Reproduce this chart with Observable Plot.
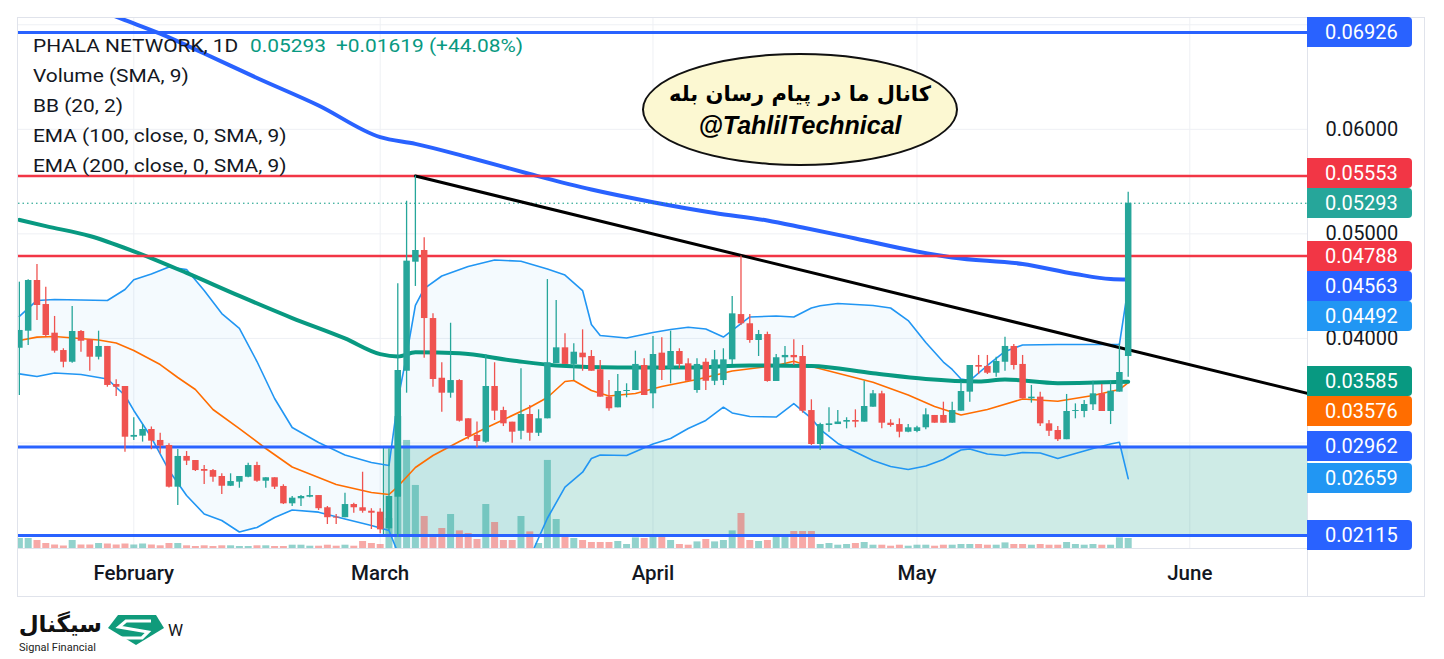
<!DOCTYPE html>
<html lang="en">
<head>
<meta charset="utf-8">
<title>PHALA NETWORK, 1D</title>
<script src="https://cdn.jsdelivr.net/npm/d3@7"></script>
<script src="https://cdn.jsdelivr.net/npm/@observablehq/plot@0.6"></script>
<style>
  html, body { margin:0; padding:0; background:#fff; overflow:hidden; }
  #wrap { position:relative; width:1444px; height:659px; font-family: Roboto, "Noto Sans", sans-serif; color:#131722; overflow:hidden; }
  #wrap svg { position:absolute; left:0; top:0; }
  .frame { position:absolute; left:17px; top:17px; width:1408px; height:580px; border:1px solid #e0e3eb; box-sizing:border-box; }
  .vsep { position:absolute; left:1307px; top:17px; width:1px; height:580px; background:#e0e3eb; }
  .hsep { position:absolute; left:17px; top:548px; width:1290px; height:1px; background:#e0e3eb; }
  .lg { position:absolute; font-size:18px; line-height:30px; white-space:pre; transform:scaleX(1.16); transform-origin:0 50%; }
  .up { color:#089981; }
  .badge { position:absolute; left:1307px; width:105px; height:30px; line-height:30px; padding-left:18px; box-sizing:border-box; color:#fff; font-size:20px; border-radius:0 4px 4px 0; }
  .bubble { position:absolute; left:642px; top:53px; width:316px; height:113px; box-sizing:border-box; border:2px solid #111; border-radius:50%; background:#fcf8d2; display:flex; flex-direction:column; justify-content:center; align-items:center; line-height:31px; color:#000; }
  .fa { font-family:"DejaVu Sans", sans-serif; font-weight:bold; font-size:21px; direction:rtl; }
  .en { font-family:"Liberation Sans", Arial, sans-serif; font-weight:bold; font-style:italic; font-size:25px; }
  .logo-fa { position:absolute; left:14px; top:611px; width:88px; text-align:right; font-family:"DejaVu Sans", sans-serif; font-weight:bold; font-size:23px; color:#111; direction:rtl; }
  .logo-en { position:absolute; left:19px; top:641px; font-size:11px; color:#222; }
  .logo-w { position:absolute; left:168px; top:620px; font-size:17px; color:#131722; }
</style>
</head>
<body>
<div id="wrap">
  <div class="frame"></div>
</div>
<script>
// ---------------- data ----------------
const startDate = "2025-01-19";  // first daily candle
const open = [
.03906,.04069,.04554,.04324,.04050,.03884,.03772,.04066,.03987,.03820,.03923,.03559,.03540,
.03055,.03065,.03129,.03024,.02976,.02577,.02871,.02832,.02746,.02736,.02679,.02586,.02625,.02672,.02784,.02634,.02667,.02584,.02418,.02466,.02481,.02497,.02380,.02290,.02285,.02411,.02380,.02347,
.02338,.02179,.02481,.03686,.04729,.04841,.04190,.03619,.03476,.03597,.03231,.03072,.03007,.03540,.03310,.03199,.03112,.03272,.03093,.03231,.03760,.03910,.03751,.03859,.03827,.03700,.03438,.03336,.03492,.03502,.03741,
.03470,.03859,.03709,.03875,.03757,.03502,.03772,.03590,.03597,.03795,.04228,.04140,.03980,.04037,.03588,.03815,.03837,.03827,.03310,.02985,.03167,.03176,.03199,.03215,.03199,.03342,.03470,.03189,.03176,.03103,
.03110,.03145,.03263,.03263,.03189,.03304,.03486,.03741,.03732,.03667,.03772,.03923,.03751,.03422,.03438,.03183,.03119,.03031,.03301,.03301,.03365,.03470,.03301,.03486,.03827];
const high = [
.04538,.04561,.04707,.04490,.04210,.03901,.04305,.04076,.03987,.04069,.03923,.03604,.03540,
.03241,.03176,.03153,.03093,.02992,.02937,.02918,.02832,.02784,.02746,.02705,.02705,.02679,.02806,.02816,.02667,.02667,.02600,.02488,.02497,.02584,.02497,.02392,.02316,.02520,.02424,.02720,.02371,
.02371,.02944,.04522,.05312,.05553,.04962,.04235,.03767,.04145,.03605,.03231,.03200,.03846,.03767,.03342,.03199,.03710,.03358,.03317,.04563,.04363,.04044,.03948,.04082,.03884,.03789,.03597,.03655,.03566,.03878,.03805,
.04018,.04006,.04069,.03901,.03805,.03805,.03805,.03884,.03901,.04401,.04788,.04228,.04076,.04060,.03846,.03923,.03987,.03932,.03413,.03189,.03336,.03310,.03241,.03317,.03590,.03502,.03495,.03222,.03231,.03176,
.03160,.03327,.03263,.03390,.03390,.03581,.03741,.03837,.03837,.03820,.04012,.03942,.03837,.03550,.03486,.03215,.03157,.03464,.03374,.03406,.03590,.03559,.03590,.03948,.05398];
const low = [
.03454,.03932,.04171,.04012,.03859,.03719,.03763,.03868,.03686,.03794,.03533,.03444,.02912,
.03024,.03008,.02935,.02896,.02570,.02402,.02784,.02727,.02603,.02625,.02507,.02583,.02567,.02667,.02625,.02567,.02555,.02411,.02392,.02392,.02475,.02354,.02220,.02220,.02285,.02328,.02328,.02172,
.02131,.02163,.02099,.03476,.04497,.03811,.03533,.03294,.03428,.03200,.03031,.02954,.02998,.03215,.03157,.02998,.03031,.03017,.03062,.03231,.03760,.03751,.03597,.03686,.03686,.03438,.03304,.03336,.03432,.03502,.03454,
.03327,.03597,.03566,.03709,.03590,.03476,.03502,.03549,.03549,.03751,.04124,.03954,.03827,.03581,.03588,.03751,.03741,.03285,.02976,.02928,.03103,.03176,.03135,.03145,.03199,.03342,.03135,.03151,.03049,.03097,
.03097,.03126,.03189,.03189,.03189,.03304,.03390,.03655,.03655,.03629,.03686,.03699,.03422,.03381,.03157,.03062,.03014,.03031,.03231,.03240,.03310,.03301,.03176,.03486,.03629];
const close = [
.04076,.04554,.04315,.04028,.03878,.03772,.04066,.03973,.03820,.03923,.03550,.03533,.03055,
.03072,.03129,.03017,.02970,.02577,.02871,.02826,.02736,.02729,.02672,.02586,.02631,.02679,.02784,.02634,.02667,.02577,.02418,.02472,.02488,.02497,.02371,.02285,.02281,.02411,.02380,.02347,.02328,
.02169,.02488,.03693,.04739,.04841,.04190,.03607,.03476,.03597,.03208,.03062,.03014,.03540,.03304,.03183,.03103,.03272,.03093,.03231,.03767,.03910,.03751,.03868,.03815,.03686,.03438,.03327,.03492,.03502,.03751,.03454,
.03846,.03693,.03875,.03751,.03590,.03751,.03590,.03795,.03795,.04235,.04140,.03980,.04037,.03588,.03815,.03837,.03815,.03304,.02985,.03176,.03183,.03200,.03215,.03199,.03349,.03470,.03189,.03167,.03103,.03145,
.03145,.03269,.03189,.03189,.03310,.03492,.03741,.03725,.03667,.03779,.03923,.03741,.03422,.03438,.03183,.03112,.03031,.03301,.03310,.03368,.03470,.03301,.03495,.03674,.05293];
// volume (millions, read relative to the volume pane)
const volume = [
10,10,8,5,3.5,2.5,8,3.5,3.5,5,4.5,3.5,4.5,
3.5,4.5,3.5,2.7,5,5,2.7,2,2.7,2,2.7,2.7,2,2,2.7,2.7,2,2,3.3,3.3,2.3,2.3,3.3,2.3,3.3,2.3,7,5,
4,30,132,108,63,32,13,20,34,17.6,15,9,44,26,8,8,32,16.6,5,88,29,12,10,8,6,6,6,7,4,10.6,10,
11.6,11.6,8,4,3.3,6.6,9,6.6,8,17.6,35,8,7,8,11.6,11.6,17,17,17,4,5,3.3,4,5,6,3.3,3.3,2.3,3.3,2.3,
3.3,3.3,2.3,3.3,3.3,4,4,4,3.3,3.3,5.6,4,4,3.3,4,3.3,3.3,6,4,3.3,4,3.3,3.3,10.6,10];

// Bollinger Bands (20, 2)
const bbDates = ["2025-01-19","2025-01-21","2025-01-23","2025-01-26","2025-01-29","2025-01-31",
"2025-02-01","2025-02-03","2025-02-05","2025-02-07","2025-02-09","2025-02-11","2025-02-13","2025-02-15","2025-02-17","2025-02-19","2025-02-22","2025-02-25","2025-02-28",
"2025-03-02","2025-03-03","2025-03-04","2025-03-05","2025-03-06","2025-03-08","2025-03-11","2025-03-14","2025-03-17","2025-03-20","2025-03-22","2025-03-24","2025-03-25","2025-03-26","2025-03-29",
"2025-04-01","2025-04-03","2025-04-05","2025-04-07","2025-04-09","2025-04-10","2025-04-12","2025-04-15","2025-04-17","2025-04-19","2025-04-20","2025-04-22","2025-04-24","2025-04-26","2025-04-28","2025-04-30",
"2025-05-02","2025-05-04","2025-05-05","2025-05-06","2025-05-07","2025-05-09","2025-05-11","2025-05-13","2025-05-15","2025-05-17","2025-05-19","2025-05-21","2025-05-23","2025-05-24","2025-05-25"];
const bbUpper = [.04210,.04363,.04372,.04367,.04363,.04468,
.04561,.04616,.04683,.04659,.04458,.04238,.04095,.03779,.03425,.03148,.03004,.02885,.02813,
.02784,.03406,.03837,.04315,.04477,.04597,.04688,.04750,.04738,.04664,.04606,.04458,.04133,.04028,.04004,
.04057,.04085,.04107,.04090,.04013,.04076,.04205,.04214,.04205,.04291,.04313,.04334,.04324,.04315,.04291,.04171,
.03961,.03774,.03703,.03612,.03597,.03741,.03875,.03937,.03939,.03942,.03942,.03942,.03942,.03942,.04492];
const bbLower = [.03661,.03636,.03669,.03655,.03612,.03454,
.03311,.03052,.02737,.02497,.02321,.02258,.02148,.02192,.02287,.02359,.02338,.02273,.02211,
.02163,.01952,.01730,.01589,.01493,.01397,.01350,.01380,.01713,.02280,.02577,.02720,.02851,.02885,.02880,
.02990,.03043,.03138,.03215,.03342,.03287,.03253,.03248,.03377,.03236,.03131,.02995,.02914,.02832,.02775,.02746,
.02780,.02842,.02890,.02933,.02942,.02894,.02880,.02909,.02904,.02851,.02899,.02947,.02990,.03007,.02659];
const basisDates = ["2025-01-19","2025-01-21","2025-01-23","2025-01-28","2025-01-30","2025-02-01","2025-02-04","2025-02-06","2025-02-08","2025-02-10","2025-02-13","2025-02-16","2025-02-19","2025-02-24","2025-02-28",
"2025-03-02","2025-03-03","2025-03-05","2025-03-07","2025-03-10","2025-03-13","2025-03-18","2025-03-20","2025-03-22","2025-03-23","2025-03-25","2025-03-27","2025-03-30",
"2025-04-02","2025-04-06","2025-04-10","2025-04-15","2025-04-17","2025-04-19","2025-04-22","2025-04-26","2025-04-30",
"2025-05-03","2025-05-06","2025-05-09","2025-05-13","2025-05-17","2025-05-21","2025-05-24","2025-05-25"];
const bbBasis = [.03980,.04012,.04018,.03985,.03956,.03884,.03750,.03626,.03511,.03320,.03138,.02947,.02770,.02603,.02526,
.02507,.02583,.02765,.02880,.03014,.03143,.03342,.03435,.03588,.03597,.03502,.03449,.03473,
.03540,.03607,.03688,.03741,.03782,.03731,.03667,.03581,.03459,
.03349,.03267,.03320,.03420,.03399,.03454,.03511,.03576];

// EMA 100 and EMA 200
const ema100Dates = ["2025-01-19","2025-01-22","2025-01-27","2025-02-01","2025-02-07","2025-02-13","2025-02-19","2025-02-25","2025-03-01","2025-03-03","2025-03-05","2025-03-10","2025-03-16","2025-03-21","2025-03-28","2025-04-05","2025-04-12","2025-04-19","2025-04-26","2025-05-02","2025-05-08","2025-05-11","2025-05-17","2025-05-25"];
const ema100 = [.05134,.05074,.04980,.04833,.04626,.04406,.04195,.04000,.03850,.03827,.03868,.03858,.03789,.03741,.03722,.03722,.03741,.03736,.03667,.03612,.03588,.03607,.03572,.03585];
const ema200Dates = ["2025-01-19","2025-01-25","2025-01-31","2025-02-04","2025-02-09","2025-02-15","2025-02-22","2025-03-01","2025-03-05","2025-03-11","2025-03-18","2025-03-25","2025-04-01","2025-04-08","2025-04-14","2025-04-18","2025-04-24","2025-05-01","2025-05-05","2025-05-13","2025-05-19","2025-05-23","2025-05-25"];
const ema200 = [.07430,.07240,.07045,.06915,.06725,.06491,.06228,.05925,.05861,.05733,.05573,.05424,.05303,.05200,.05128,.05061,.04956,.04831,.04774,.04712,.04616,.04568,.04563];

// drawings
const blueLevels = [0.06926, 0.02962, 0.02115];
const redLevels = [0.05553, 0.04788];
const zoneStart = "2025-03-01T10:00Z", zoneEnd = "2025-07-01";
const zoneLow = 0.02115, zoneHigh = 0.02962;
const trendDates = ["2025-03-05", "2025-06-15"];
const trendPrices = [0.05553, 0.03461];

// legend texts
const symbolTitle = "PHALA NETWORK, 1D";
const lastPriceText = "0.05293";
const changeText = "+0.01619 (+44.08%)";
const indicatorNames = ["Volume (SMA, 9)", "BB (20, 2)", "EMA (100, close, 0, SMA, 9)", "EMA (200, close, 0, SMA, 9)"];

// axes
const monthTicks = ["2025-02-01","2025-03-01","2025-04-01","2025-05-01","2025-06-01"];
const priceTicks = [0.04, 0.05, 0.06];
const gridPrices = [0.03, 0.04, 0.05, 0.06, 0.07];
const xDomain = ["2025-01-18T21:36Z", "2025-06-14T09:00Z"];
const yDomain = [0.019905, 0.070695];

// ---------------- build ----------------
const UP = "#26a69a", DOWN = "#ef5350";
const days = d3.utcDay.range(new Date(startDate), d3.utcDay.offset(new Date(startDate), open.length));
const candles = days.map((d, i) => ({date: d, open: open[i], high: high[i], low: low[i], close: close[i], vol: volume[i], up: close[i] >= open[i]}));
const bb = bbDates.map((d, i) => ({date: new Date(d), upper: bbUpper[i], lower: bbLower[i]}));
const basis = basisDates.map((d, i) => ({date: new Date(d), v: bbBasis[i]}));
const e100 = ema100Dates.map((d, i) => ({date: new Date(d), v: ema100[i]}));
const e200 = ema200Dates.map((d, i) => ({date: new Date(d), v: ema200[i]}));
const trend = trendDates.map((d, i) => ({date: new Date(d), v: trendPrices[i]}));
const volBase = yDomain[0];
const volUnit = 0.0000957; // price units per volume unit inside the pane
const minBody = 0.00005;

const plot = Plot.plot({
  width: 1444, height: 659,
  marginLeft: 18, marginRight: 137, marginTop: 17, marginBottom: 111,
  style: {fontFamily: "Roboto, sans-serif", color: "#131722", background: "transparent", overflow: "visible"},
  x: {type: "utc", domain: xDomain.map(d => new Date(d))},
  y: {domain: yDomain},
  color: {type: "identity"},
  marks: [
    Plot.gridX(monthTicks.map(d => new Date(d)), {stroke: "#eef0f4", strokeOpacity: 1}),
    Plot.gridY(gridPrices, {stroke: "#eef0f4", strokeOpacity: 1}),
    Plot.rect([{x1: new Date(zoneStart), x2: new Date(zoneEnd), y1: zoneLow, y2: zoneHigh}],
      {x1: "x1", x2: "x2", y1: "y1", y2: "y2", fill: "#089981", fillOpacity: 0.2, stroke: "#089981", strokeWidth: 1, clip: true}),
    Plot.areaY(bb, {x: "date", y1: "lower", y2: "upper", fill: "#2196f3", fillOpacity: 0.05, clip: true}),
    Plot.ruleX(candles, {x: "date", y1: () => volBase, y2: d => volBase + d.vol * volUnit,
      stroke: d => d.up ? UP : DOWN, strokeOpacity: 0.5, strokeWidth: 7, clip: true}),
    Plot.line(bb, {x: "date", y: "upper", stroke: "#2196f3", strokeWidth: 1.6, clip: true}),
    Plot.line(bb, {x: "date", y: "lower", stroke: "#2196f3", strokeWidth: 1.6, clip: true}),
    Plot.line(basis, {x: "date", y: "v", stroke: "#ff6d00", strokeWidth: 1.6, clip: true}),
    Plot.line(e100, {x: "date", y: "v", stroke: "#089981", strokeWidth: 4, curve: "monotone-x", clip: true}),
    Plot.line(e200, {x: "date", y: "v", stroke: "#2962ff", strokeWidth: 4, curve: "monotone-x", clip: true}),
    Plot.ruleY(blueLevels, {stroke: "#2962ff", strokeWidth: 3}),
    Plot.ruleY(redLevels, {stroke: "#f23645", strokeWidth: 2.5}),
    Plot.ruleY([close[close.length - 1]], {stroke: "#089981", strokeWidth: 1, strokeDasharray: "1.5,3"}),
    Plot.line(trend, {x: "date", y: "v", stroke: "#000", strokeWidth: 3, clip: true}),
    Plot.ruleX(candles, {x: "date", y1: "low", y2: "high", stroke: d => d.up ? UP : DOWN, strokeWidth: 1.3, clip: true}),
    Plot.ruleX(candles, {x: "date", y1: "open",
      y2: d => Math.abs(d.close - d.open) < minBody ? d.open + (d.up ? minBody : -minBody) : d.close,
      stroke: d => d.up ? UP : DOWN, strokeWidth: 6.5, clip: true}),
    Plot.axisX(monthTicks.map(d => new Date(d)), {tickFormat: d3.utcFormat("%B"), tickSize: 0, tickPadding: 17, fontSize: 20.5, fontWeight: 500, fill: "#131722"}),
    Plot.axisY(priceTicks, {anchor: "right", tickSize: 0, tickPadding: 18, tickFormat: d3.format(".5f"), fontSize: 20, fill: "#131722"})
  ]
});

const wrap = document.getElementById("wrap");
wrap.insertBefore(plot, wrap.firstChild);

function addDiv(cls, html, style) {
  const el = document.createElement("div");
  el.className = cls;
  el.innerHTML = html;
  if (style) Object.assign(el.style, style);
  wrap.appendChild(el);
  return el;
}
addDiv("vsep", "");
addDiv("hsep", "");

// legend
addDiv("lg", symbolTitle, {left: "33px", top: "31px"});
addDiv("lg up", lastPriceText, {left: "250px", top: "31px"});
addDiv("lg up", changeText, {left: "336px", top: "31px"});
indicatorNames.forEach((t, i) => addDiv("lg", t, {left: "33px", top: (61 + i * 30) + "px"}));

// callout
addDiv("bubble", '<div class="fa">کانال ما در پیام رسان بله</div><div class="en">@TahlilTechnical</div>');

// price badges (positioned with the plot's y scale, stacked to avoid overlap)
const y = plot.scale("y");
const last = close.length - 1;
const badges = [
  {v: close[last], c: UP, r: 0},
  ...blueLevels.map(v => ({v, c: "#2962ff", r: 1})),
  ...redLevels.map(v => ({v, c: "#f23645", r: 1})),
  {v: ema100[ema100.length - 1], c: "#089981", r: 2},
  {v: ema200[ema200.length - 1], c: "#2962ff", r: 3},
  {v: bbBasis[bbBasis.length - 1], c: "#ff6d00", r: 4},
  {v: bbUpper[bbUpper.length - 1], c: "#2196f3", r: 5},
  {v: bbLower[bbLower.length - 1], c: "#2196f3", r: 6}
];
const placed = [];
badges.sort((a, b) => a.r - b.r).forEach(b => {
  const target = y.apply(b.v);
  let py = target;
  for (let k = 0; k < 20; k++) {
    const hit = placed.find(p => Math.abs(p.py - py) < 30);
    if (!hit) break;
    py = target < hit.py ? hit.py - 30 : hit.py + 30;
  }
  b.py = py;
  placed.push(b);
  addDiv("badge", d3.format(".5f")(b.v), {top: (py - 15) + "px", background: b.c});
});

// footer logo
addDiv("logo-fa", "سیگنال");
addDiv("logo-en", "Signal Financial");
addDiv("logo-w", "W");
const ns = "http://www.w3.org/2000/svg";
const icon = document.createElementNS(ns, "svg");
icon.setAttribute("width", "60"); icon.setAttribute("height", "34");
icon.setAttribute("style", "position:absolute;left:106px;top:613px;");
icon.innerHTML = '<polygon points="12,2 50,2 58,15 30,32 2,15" fill="#109b7b"/>' +
  '<polyline points="45,8 20,8 13,14 42,19 36,25 15,25" fill="none" stroke="#fff" stroke-width="3.2" stroke-linejoin="miter"/>';
wrap.appendChild(icon);
</script>
</body>
</html>
